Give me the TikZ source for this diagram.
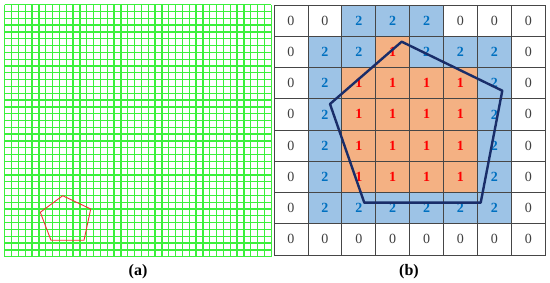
\documentclass[tikz,border=0pt]{standalone}
\usepackage{fontspec}
\setmainfont{Liberation Serif}
\definecolor{gridgreen}{RGB}{60,240,60}
\definecolor{penred}{RGB}{240,50,50}
\definecolor{cellorange}{RGB}{244,177,131}
\definecolor{cellblue}{RGB}{157,195,230}
\definecolor{txtblue}{RGB}{0,112,192}
\definecolor{navy}{RGB}{25,45,105}
\definecolor{cellline}{RGB}{70,70,70}
\begin{document}
\begin{tikzpicture}[x=1pt,y=-1pt,
  gline/.style={draw=gridgreen, line width=1.3pt},
  cell/.style={rectangle, draw=cellline, line width=0.7pt, minimum width=33.9pt, minimum height=31.25pt, inner sep=0pt},
  v0/.style={cell, fill=white, text=black!75, font=\fontsize{14}{14}\selectfont},
  v1/.style={cell, fill=cellorange, text=red, font=\bfseries\fontsize{14}{14}\selectfont},
  v2/.style={cell, fill=cellblue, text=txtblue, font=\bfseries\fontsize{14}{14}\selectfont},
  caption/.style={font=\bfseries\fontsize{16}{16}\selectfont},
  redpoly/.style={draw=penred, line width=0.9pt, line join=round},
  navypoly/.style={draw=navy, line width=2.4pt, line join=round}]
\useasboundingbox (0,0) rectangle (550,283);
% (a) green grid
\foreach \i in {0,...,39} \draw[gline] ({4.7+\i*6.835},4.7) -- ({4.7+\i*6.835},256.7);
\foreach \j in {0,...,37} \draw[gline] (4.7,{4.7+\j*6.811}) -- (271.3,{4.7+\j*6.811});
% red pentagon
\coordinate (ra) at (62.7,195.7);
\coordinate (rb) at (90.7,209);
\coordinate (rc) at (84,240.3);
\coordinate (rd) at (51,240.3);
\coordinate (re) at (40.3,212.3);
\draw[redpoly] (ra) -- (rb) -- (rc) -- (rd) -- (re) -- cycle;
% (b) cell grid
\foreach \row [count=\r from 0] in {{0,0,2,2,2,0,0,0},{0,2,2,1,2,2,2,0},{0,2,1,1,1,1,2,0},{0,2,1,1,1,1,2,0},{0,2,1,1,1,1,2,0},{0,2,1,1,1,1,2,0},{0,2,2,2,2,2,2,0},{0,0,0,0,0,0,0,0}}{
  \foreach \v [count=\c from 0] in \row {
    \node[v\v] (c-\r-\c) at ({274+33.9*\c+16.95},{5+31.25*\r+15.625}) {\v};
  }
}
% navy pentagon
\coordinate (na) at (401.7,41.7);
\coordinate (nb) at (502.3,90.7);
\coordinate (nc) at (480.7,202.7);
\coordinate (nd) at (364.3,202.7);
\coordinate (ne) at (330,104);
\draw[navypoly] (na) -- (nb) -- (nc) -- (nd) -- (ne) -- cycle;
% captions
\node[caption] (capa) at (138,271.5) {(a)};
\node[caption] (capb) at (409,271.5) {(b)};
\end{tikzpicture}
\end{document}
